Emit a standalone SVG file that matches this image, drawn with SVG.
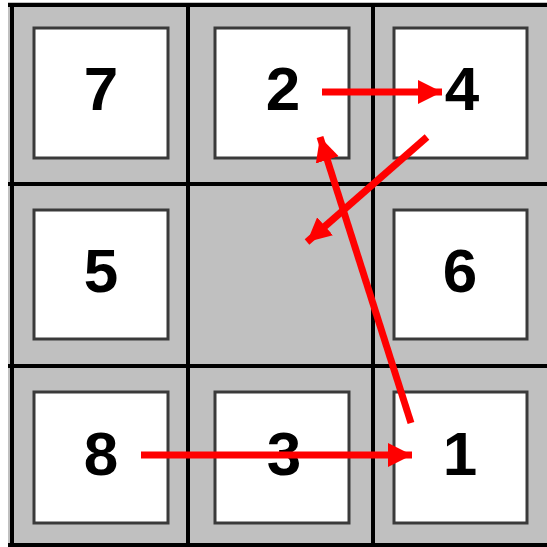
<svg xmlns="http://www.w3.org/2000/svg" width="547" height="547" viewBox="0 0 547 547">
<style>
.grid{stroke:#000;stroke-width:4;fill:none}
.tile{fill:#fff;stroke:#3a3a3a;stroke-width:3}
.num{font-family:"Liberation Sans",Arial,sans-serif;font-weight:bold;font-size:62px;text-anchor:middle;fill:#000}
.arr{stroke:#ff0000;stroke-width:7;fill:none;marker-end:url(#ah)}
</style>
<defs>
<marker id="ah" markerUnits="userSpaceOnUse" markerWidth="26" markerHeight="26" refX="24" refY="12" orient="auto">
<path d="M0,0 L24,12 L0,24 Z" fill="#ff0000"/>
</marker>
</defs>
<rect x="0" y="0" width="547" height="547" fill="#fff"/>
<rect x="8" y="2" width="539" height="545" fill="#c0c0c0"/>
<g id="grid" class="grid">
<line x1="12" y1="3" x2="12" y2="547"/>
<line x1="188" y1="3" x2="188" y2="547"/>
<line x1="373" y1="3" x2="373" y2="547"/>
<line x1="8" y1="5" x2="547" y2="5"/>
<line x1="8" y1="184" x2="547" y2="184"/>
<line x1="8" y1="366" x2="547" y2="366"/>
<line x1="8" y1="545" x2="547" y2="545"/>
</g>
<g id="n7"><rect class="tile" x="34" y="28" width="134" height="130"/><text class="num" x="101" y="110">7</text></g>
<g id="n2"><rect class="tile" x="215" y="28" width="134" height="130"/><text class="num" x="283" y="110">2</text></g>
<g id="n4"><rect class="tile" x="394" y="28" width="133" height="130"/><text class="num" x="462" y="110">4</text></g>
<g id="n5"><rect class="tile" x="34" y="210" width="134" height="129"/><text class="num" x="101" y="292">5</text></g>
<g id="n6"><rect class="tile" x="394" y="210" width="133" height="129"/><text class="num" x="460" y="292">6</text></g>
<g id="n8"><rect class="tile" x="34" y="392" width="134" height="131"/><text class="num" x="101" y="475">8</text></g>
<g id="n3"><rect class="tile" x="215" y="392" width="134" height="131"/><text class="num" x="284" y="475">3</text></g>
<g id="n1"><rect class="tile" x="394" y="392" width="133" height="131"/><text class="num" x="460" y="475">1</text></g>
<g id="connectors">
<line class="arr" x1="322" y1="92" x2="442" y2="92"/>
<line class="arr" x1="427" y1="137" x2="307" y2="242"/>
<line class="arr" x1="411" y1="423" x2="320" y2="137"/>
<line class="arr" x1="141" y1="455" x2="412" y2="455"/>
</g>
</svg>
